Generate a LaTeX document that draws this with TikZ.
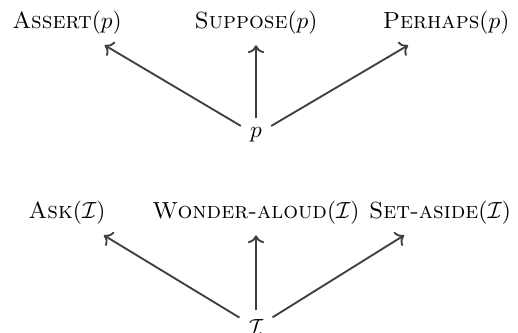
\documentclass[tikz,border=0pt]{standalone}
\usepackage{amsmath, amssymb}
\usetikzlibrary{arrows.meta, positioning}

\begin{document}
\begin{tikzpicture}[
    every node/.append style={font=\normalsize},
  ]

  \tikzset{
    act/.style={inner sep=4.4pt},
    src/.style={inner sep=3.8pt},
    lift/.style={->, line width=0.8pt, color=black!75},
  }

  \useasboundingbox (0, 0) rectangle (7.81, 5.02);

  %% ---------------- PROPOSITION ----------------
  \node[act] (assert)  at (1.01, 4.675) {\textsc{Assert}$(p)$};
  \node[act] (suppose) at (3.86, 4.675) {\textsc{Suppose}$(p)$};
  \node[act] (perhaps) at (6.726, 4.675) {\textsc{Perhaps}$(p)$};
  \node[src] (p) at (3.86, 2.986) {$p$};
  \draw[lift] (p) -- (assert);
  \draw[lift] (p) -- (suppose);
  \draw[lift] (p) -- (perhaps);

  %% ---------------- ISSUE ----------------
  \node[act] (ask)    at (1.01, 1.81) {\textsc{Ask}$(\mathcal{I})$};
  \node[act] (wonder) at (3.86, 1.81) {\textsc{Wonder-aloud}$(\mathcal{I})$};
  \node[act] (aside)  at (6.635, 1.81) {\textsc{Set-aside}$(\mathcal{I})$};
  \node[src] (issue) at (3.86, 0.08) {$\mathcal{I}$};
  \draw[lift] (issue) -- (ask);
  \draw[lift] (issue) -- (wonder);
  \draw[lift] (issue) -- (aside);

\end{tikzpicture}
\end{document}
